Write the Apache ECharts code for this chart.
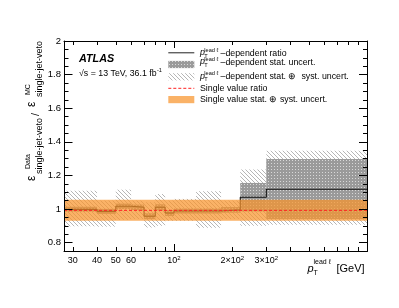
<!DOCTYPE html>
<html><head><meta charset="utf-8">
<script src="https://cdn.jsdelivr.net/npm/echarts@6/dist/echarts.min.js"></script>
<style>html,body{margin:0;padding:0;background:#fff}#c{width:399px;height:308px}</style>
</head><body><div id="c"></div>
<script>
// ---------------- data ----------------
const binEdges = [27, 40, 50, 60, 70, 80, 90, 100, 130, 175, 220, 300, 1000];
const ratio    = [0.998, 0.986, 1.016, 1.010, 0.957, 1.010, 0.976, 0.988, 0.988, 0.995, 1.070, 1.118];
const statLo   = [0.983, 0.971, 1.000, 0.994, 0.940, 0.992, 0.958, 0.973, 0.973, 0.978, 0.985, 0.940];
const statHi   = [1.013, 1.001, 1.032, 1.026, 0.974, 1.028, 0.994, 1.003, 1.003, 1.012, 1.155, 1.298];
const totLo    = [0.897, 0.895, 0.935, 0.940, 0.890, 0.900, 0.930, 0.930, 0.888, 0.940, 0.900, 0.906];
const totHi    = [1.109, 1.050, 1.115, 1.050, 1.040, 1.089, 1.050, 1.060, 1.105, 1.050, 1.235, 1.347];
const singleRatio = 0.992;
const singleLo = 0.930;
const singleHi = 1.055;
const xRange = [27, 1000];
const yRange = [0.75, 2.0];
const xLabelTicks = [30, 40, 50, 60, 100, 200, 300];
const xMinorTicks = [30, 40, 50, 60, 70, 80, 90, 200, 300, 400, 500, 600, 700, 800, 900];
const xMajorTicks = [100];
const yMajorTicks = [0.8, 1.0, 1.2, 1.4, 1.6, 1.8, 2.0];
const yMinorTicks = [0.85, 0.9, 0.95, 1.05, 1.1, 1.15, 1.25, 1.3, 1.35, 1.45, 1.5, 1.55, 1.65, 1.7, 1.75, 1.85, 1.9, 1.95];

// ---------------- helpers ----------------
const FONT = '"Liberation Sans", Arial, Helvetica, sans-serif';
const L = Math.log10;
function mkCanvas(w, h, draw) { const c = document.createElement('canvas'); c.width = w; c.height = h; draw(c.getContext('2d')); return c; }
const hatchCanvas = mkCanvas(4, 4, g => { g.fillStyle = '#b6b6b6'; for (let i = 0; i < 4; i++) g.fillRect(i, i, 1, 1); });
const statCanvas = mkCanvas(3, 3, g => { g.fillStyle = '#9a9a9a'; g.fillRect(0, 0, 3, 3); g.fillStyle = '#d8d8d8'; g.fillRect(1, 1, 1, 1); });
const hatchFill = { image: hatchCanvas, repeat: 'repeat' };
const statFill = { image: statCanvas, repeat: 'repeat' };
const orangeFill = 'rgba(248,148,45,0.72)';

const nb = ratio.length;
const binRects = (lo, hi) => ratio.map((_, i) => [L(binEdges[i]), L(binEdges[i + 1]), lo[i], hi[i]]);
const stepData = binEdges.map((e, i) => [L(e), ratio[Math.min(i, nb - 1)]]);

function rectRender(fill) {
  return function (params, api) {
    const p0 = api.coord([api.value(0), api.value(3)]);
    const p1 = api.coord([api.value(1), api.value(2)]);
    return { type: 'rect', shape: { x: p0[0], y: p0[1], width: p1[0] - p0[0], height: p1[1] - p0[1] }, style: { fill: fill, stroke: null } };
  };
}

const lineCol = '#000';
const xMin = L(xRange[0]), xMax = L(xRange[1]);
function xAxisDef(pos, ticks, len, showLine, labels) {
  return {
    type: 'value', position: pos, min: xMin, max: xMax, z: 10,
    axisLine: { show: showLine, lineStyle: { color: lineCol, width: 1 } },
    axisTick: { show: true, inside: true, length: len, customValues: ticks.map(L), lineStyle: { color: lineCol, width: 1 } },
    axisLabel: labels ? {
      show: true, customValues: xLabelTicks.map(L), margin: 4, color: '#000', fontFamily: FONT, fontSize: 9, lineHeight: 11,
      formatter: v => { const n = Math.round(Math.pow(10, v)); if (n === 100) return '10{s|2}'; if (n === 200) return '2×10{s|2}'; if (n === 300) return '3×10{s|2}'; return String(n); },
      rich: { s: { fontSize: 6, lineHeight: 6, verticalAlign: 'top', fontFamily: FONT, color: '#000' } }
    } : { show: false },
    splitLine: { show: false }
  };
}
function yAxisDef(pos, ticks, len, showLine, labels) {
  return {
    type: 'value', position: pos, min: yRange[0], max: yRange[1], z: 10,
    axisLine: { show: showLine, lineStyle: { color: lineCol, width: 1 } },
    axisTick: { show: true, inside: true, length: len, customValues: ticks, lineStyle: { color: lineCol, width: 1 } },
    axisLabel: labels ? { show: true, customValues: yMajorTicks, margin: 3, color: '#000', fontFamily: FONT, fontSize: 9.5,
      formatter: v => String(Math.round(v * 10) / 10) } : { show: false },
    splitLine: { show: false }
  };
}

const mctx = document.createElement('canvas').getContext('2d');
function tw(text, font) { mctx.font = font; return mctx.measureText(text).width; }
function T(x, y, text, font, extra) {
  return Object.assign({ type: 'text', x: x, y: y, z: 20, style: { text: text, font: font, fill: '#000', textAlign: 'left', textVerticalAlign: 'middle', verticalAlign: 'middle' } }, extra || {});
}

// ---------------- graphics (labels, legend, titles) ----------------
const g = [];
g.push(T(79, 59, 'ATLAS', 'italic bold 10.8px ' + FONT));
const sF = '8.8px ' + FONT;
const sTxt = '√s = 13 TeV, 36.1 fb';
g.push(T(79, 74, sTxt, sF));
g.push(T(79 + tw(sTxt, sF) + 0.3, 70.5, '-1', '5.6px ' + FONT));

// legend
const legF = '8.8px ' + FONT;
const legSmall = '5.6px ' + FONT;
const symY = [52.8, 64.5, 76.8, 88.3, 99.6];
const txtY = [53.3, 62.5, 76.7, 88.3, 99.3];
const sx0 = 168.3, sx1 = 194.3;
g.push({ type: 'line', z: 20, shape: { x1: sx0, y1: symY[0], x2: sx1, y2: symY[0] }, style: { stroke: '#222', lineWidth: 1 } });
g.push({ type: 'rect', z: 20, shape: { x: sx0, y: symY[1] - 3.6, width: sx1 - sx0, height: 7.2 }, style: { fill: statFill } });
g.push({ type: 'rect', z: 20, shape: { x: sx0, y: symY[2] - 3.6, width: sx1 - sx0, height: 7.2 }, style: { fill: hatchFill } });
g.push({ type: 'line', z: 20, shape: { x1: sx0, y1: symY[3], x2: sx1, y2: symY[3] }, style: { stroke: '#ff2020', lineWidth: 1, lineDash: [3, 2] } });
g.push({ type: 'rect', z: 20, shape: { x: sx0, y: symY[4] - 3.6, width: sx1 - sx0, height: 7.2 }, style: { fill: orangeFill } });
const ptTexts = ['–dependent ratio', '–dependent stat. uncert.', '–dependent stat. ⊕  syst. uncert.'];
for (let i = 0; i < 3; i++) {
  const y = txtY[i];
  g.push(T(200, y - 0.5, 'p', 'italic ' + legF));
  g.push(T(204.3, y - 3.2, 'lead ℓ', legSmall));
  g.push(T(204.3, y + 3.0, 'T', legSmall));
  g.push(T(220.5, y, ptTexts[i], legF));
}
g.push(T(200, txtY[3], 'Single value ratio', legF));
g.push(T(200, txtY[4], 'Single value stat. ⊕ syst. uncert.', legF));

// x-axis title
const xtF = '11px ' + FONT;
g.push(T(307.5, 268.5, 'p', 'italic ' + xtF));
g.push(T(313.5, 262, 'lead ℓ', '7px ' + FONT));
g.push(T(313.5, 273.5, 'T', '7px ' + FONT));
g.push(T(336.5, 269, '[GeV]', xtF));

// y-axis title (rotated group)
const epsF = '12px ' + FONT, supF = '7px ' + FONT, subF = '9px ' + FONT;
g.push({
  type: 'group', x: 32, y: 181, rotation: Math.PI / 2, z: 20,
  children: [
    T(0, 0, 'ε', epsF),
    T(12, -4, 'Data', supF),
    T(7, 8, 'single-jet-veto', subF),
    T(65, 4, '/', '11px ' + FONT),
    T(74, 0, 'ε', epsF),
    T(86, -4, 'MC', supF),
    T(84, 8, 'single-jet-veto', subF)
  ]
});

// ---------------- chart ----------------
const chart = echarts.init(document.getElementById('c'), null, { renderer: 'canvas' });
chart.setOption({
  animation: false,
  backgroundColor: '#fff',
  grid: { left: 64, right: 31.5, top: 41, bottom: 57, containLabel: false, outerBoundsMode: 'none' },
  xAxis: [
    xAxisDef('bottom', xMinorTicks, 4, true, true),
    xAxisDef('bottom', xMajorTicks, 7, false, false),
    xAxisDef('top', xMinorTicks, 4, true, false),
    xAxisDef('top', xMajorTicks, 7, false, false)
  ],
  yAxis: [
    yAxisDef('left', yMajorTicks, 8.5, true, true),
    yAxisDef('left', yMinorTicks, 4.5, false, false),
    yAxisDef('right', yMajorTicks, 8.5, true, false),
    yAxisDef('right', yMinorTicks, 4.5, false, false)
  ],
  series: [
    { name: 'tot', type: 'custom', z: 1, clip: true, renderItem: rectRender(hatchFill), encode: { x: [0, 1], y: [2, 3] }, data: binRects(totLo, totHi), silent: true },
    { name: 'stat', type: 'custom', z: 2, clip: true, renderItem: rectRender(statFill), encode: { x: [0, 1], y: [2, 3] }, data: binRects(statLo, statHi), silent: true },
    { name: 'ratio', type: 'line', z: 3, step: 'end', symbol: 'none', data: stepData, lineStyle: { color: '#111', width: 1.1 }, silent: true },
    { name: 'single', type: 'custom', z: 4, clip: true, renderItem: rectRender(orangeFill), encode: { x: [0, 1], y: [2, 3] }, data: [[xMin, xMax, singleLo, singleHi]], silent: true },
    { name: 'singleRatio', type: 'line', z: 5, symbol: 'none', data: [[xMin, singleRatio], [xMax, singleRatio]], lineStyle: { color: '#ff2020', width: 1, type: [3, 2] }, silent: true }
  ],
  graphic: g
});
</script>
</body></html>
